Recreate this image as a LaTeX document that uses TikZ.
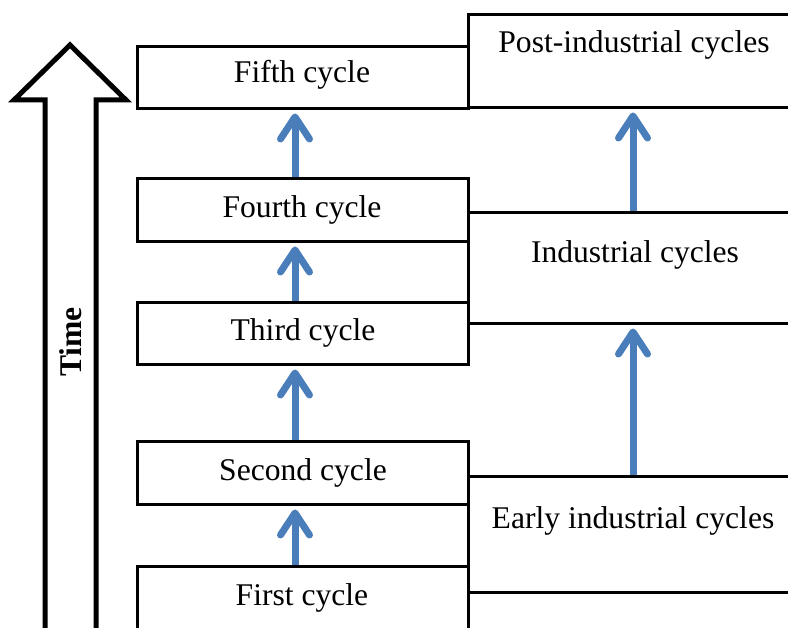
\documentclass[tikz,border=0pt]{standalone}
\usepackage{fontspec}
\setmainfont{Liberation Serif}
\usetikzlibrary{arrows.meta}
\definecolor{arrblue}{RGB}{74,126,187}
\begin{document}
\begin{tikzpicture}[x=1pt,y=-1pt,
  box/.style={draw=black, line width=3pt, fill=white, inner sep=0pt, minimum width=331pt},
  rbox/.style={draw=black, line width=3pt, fill=white, inner sep=0pt, minimum width=332pt},
  lbl/.style={anchor=base, inner sep=0pt, font=\fontsize{31.6}{38}\selectfont},
  arr/.style={draw=arrblue, line width=7pt, shorten >=3pt,
    -{Straight Barb[round, length=22pt, width=29pt]}},
  bigarrow/.style={draw=black, line width=5pt, line join=miter, fill=white}]
\useasboundingbox (0,0) rectangle (788,628);
\clip (0,0) rectangle (788,628);
% time arrow
\draw[bigarrow] (45,660) -- (45,100) -- (14,100) -- (70,45) -- (126,100) -- (96,100) -- (96,660);
\node[lbl, rotate=90, font=\fontsize{31.6}{38}\selectfont\bfseries] (time) at (81,342) {Time};
% right column
\node[rbox, minimum height=93pt] (r3) at (634,61.5) {};
\node[rbox, minimum height=111pt] (r2) at (634,268.5) {};
\node[rbox, minimum height=115pt] (r1) at (634,534.5) {};
% left column
\node[box, minimum height=62pt] (b5) at (302.5,78) {};
\node[box, minimum height=63pt] (b4) at (302.5,210.5) {};
\node[box, minimum height=62pt] (b3) at (302.5,334) {};
\node[box, minimum height=63pt] (b2) at (302.5,473.5) {};
\node[box, minimum height=84pt] (b1) at (302.5,608) {};
% labels
\node[lbl] (t5) at (302,83) {Fifth cycle};
\node[lbl] (t4) at (302,218) {Fourth cycle};
\node[lbl] (t3) at (303,341) {Third cycle};
\node[lbl] (t2) at (303,481) {Second cycle};
\node[lbl] (t1) at (302,605) {First cycle};
\node[lbl] (tr3) at (634,53) {Post-industrial cycles};
\node[lbl] (tr2) at (635,263) {Industrial cycles};
\node[lbl] (tr1) at (633,529) {Early industrial cycles};
% arrows
\draw[arr] ([xshift=-7.5pt]b4.north) -- ([xshift=-7.5pt]b5.south);
\draw[arr] ([xshift=-7.5pt]b3.north) -- ([xshift=-7.5pt]b4.south);
\draw[arr] ([xshift=-7.5pt]b2.north) -- ([xshift=-7.5pt]b3.south);
\draw[arr] ([xshift=-7.5pt]b1.north) -- ([xshift=-7.5pt]b2.south);
\draw[arr] ([xshift=-1pt]r2.north) -- ([xshift=-1pt]r3.south);
\draw[arr] ([xshift=-1pt]r1.north) -- ([xshift=-1pt]r2.south);
\end{tikzpicture}
\end{document}
